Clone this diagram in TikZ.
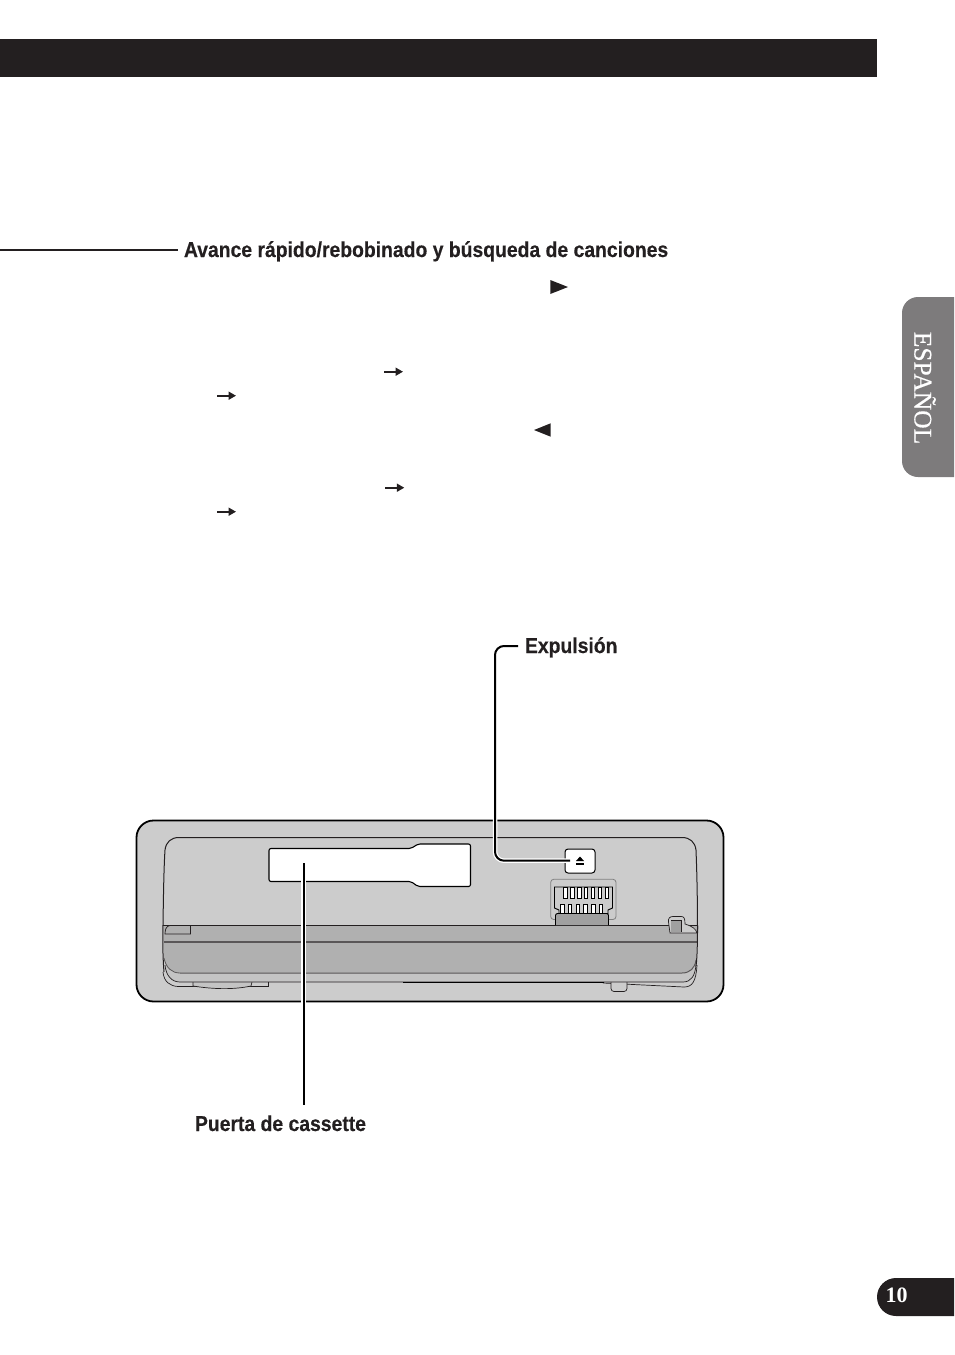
\documentclass[tikz,border=0pt]{standalone}
\usepackage{fontspec}
\setmainfont{Liberation Serif}
\newfontfamily\labelfont[FakeStretch=0.9,BoldFeatures={FakeBold=0.4}]{Liberation Sans}
\newfontfamily\tabfont[FakeBold=0.5]{Liberation Serif}
\usetikzlibrary{arrows.meta}
\definecolor{pageBlack}{HTML}{231F20}
\definecolor{tabGrey}{HTML}{7D7B7C}
\definecolor{faceGrey}{HTML}{CCCCCC}
\definecolor{bandGrey}{HTML}{B0B0B0}
\definecolor{lipGrey}{HTML}{C4C4C4}
\definecolor{tabDark}{HTML}{A0A0A0}

\begin{document}
\begin{tikzpicture}[x=1pt,y=-1pt]
\tikzset{LabelText/.style={
  anchor=base west,
  inner xsep=0pt,
  outer sep=0pt,
  text=pageBlack,
  font=\labelfont\bfseries\fontsize{21.5}{25}\selectfont
}}
\tikzset{Leader/.style={
  draw=black,
  line width=2pt,
  preaction={draw=white,line width=4.5pt}
}}
\tikzset{FaceLine/.style={draw=pageBlack,line width=1pt}}
\tikzset{ThinLine/.style={draw=pageBlack,line width=0.7pt}}
\tikzset{PinBox/.style={draw=black,line width=0.8pt,fill=white}}
\tikzset{FlowArrow/.style={
  draw=pageBlack,
  line width=1.8pt,
  -{Triangle[length=7.5pt,width=8pt]}
}}

\useasboundingbox (0,0) rectangle (954,1355);

% page furniture
\fill[pageBlack] (0,39) rectangle (877,77);
\fill[tabGrey] (954,297) [rounded corners=16pt] -- (902,297) -- (902,477) [sharp corners] -- (954,477) -- cycle;
\node[rotate=-90,text=white,font=\tabfont\fontsize{25.5}{27}\selectfont,inner sep=0pt] (tabLanguage) at (925,388) {ESPAÑOL};
\fill[pageBlack] (954,1278) [rounded corners=19pt] -- (877,1278) -- (877,1316) [sharp corners] -- (954,1316) -- cycle;
\node[anchor=base west,text=white,inner sep=0pt,font=\bfseries\fontsize{22}{24}\selectfont] (pageNumber) at (885.5,1302) {10};

% text glyphs
\fill[pageBlack] (550.3,280) -- (568,287) -- (550.3,294) -- cycle;
\fill[pageBlack] (550.7,423.3) -- (534,430) -- (550.7,436.7) -- cycle;
\foreach \x/\y in {384/371.7, 217/395.7, 385.3/487.7, 217/511.7}
  \draw[FlowArrow] (\x,\y) -- ++(19,0);

% labels
\node[LabelText] (lblAvance) at (184,257) {Avance rápido/rebobinado y búsqueda de canciones};
\node[LabelText] (lblExpulsion) at (525,653) {Expulsión};
\node[LabelText] (lblPuerta) at (195,1131) {Puerta de cassette};
\coordinate (pageEdge) at (0,250);
\coordinate (lineEndAvance) at ([xshift=-6pt]lblAvance.base west |- pageEdge);
\draw[pageBlack,line width=1.5pt] (pageEdge) -- (lineEndAvance);

% unit body
\draw[draw=black,line width=1.8pt,fill=faceGrey,rounded corners=17pt] (136.5,820.5) rectangle (723.5,1001.5);
\draw[FaceLine] (163,925) .. controls (163.5,890) and (164,865) .. (165,850)
  .. controls (166,842) and (171,837.5) .. (179,837.5) -- (682,837.5)
  .. controls (690,837.5) and (695,842) .. (696,850) .. controls (697,875) and (697.5,900) .. (697.5,933);

% lower lip and bottom parts
\draw[ThinLine] (268,986.5) -- (178,986.5) .. controls (170,986) and (164,982) .. (163,972);
\draw[ThinLine,fill=lipGrey] (193,982) -- (193,986) .. controls (215,989.5) and (235,989.5) .. (251,986) -- (252,982);
\draw[ThinLine] (603,983) -- (684,987) .. controls (692,987) and (696,982) .. (697,965);
\draw[ThinLine,fill=faceGrey,rounded corners=3pt] (611,982) -- (611,991.5) -- (627,991.5) -- (627,982);
\fill[lipGrey] (165,965) .. controls (166,976) and (172,982) .. (180,982) -- (683,982)
  .. controls (691,982) and (695,976) .. (696,965) -- cycle;
\draw[ThinLine] (165,965) .. controls (166,976) and (172,982) .. (180,982) -- (683,982)
  .. controls (691,982) and (695,976) .. (696,965);
\draw[ThinLine] (268,982) -- (268,986.5);
\draw[draw=black,line width=1pt] (403,982) -- (604,982);

% front band
\fill[bandGrey] (163,925) -- (697.5,925) -- (696,960)
  .. controls (695,968) and (690,973) .. (682,973) -- (180,973)
  .. controls (172,973) and (166,968) .. (164,958) -- cycle;
\draw[FaceLine] (163,925) -- (697.5,925);
\draw[draw=pageBlack!75,line width=1.2pt] (164,942) -- (697,942);
\draw[draw=pageBlack!75,line width=1pt] (180,973) -- (682,973)
  .. controls (690,973) and (695,968) .. (696,960);
\draw[draw=pageBlack!75,line width=0.8pt] (180,973) .. controls (172,973) and (166,968) .. (164,958);
\draw[FaceLine] (163,925) .. controls (162.5,945) and (163,960) .. (164,972);
\draw[FaceLine] (697.5,925) .. controls (697.5,945) and (697,960) .. (696,966);

% small window at the left, latch at the right
\draw[ThinLine,fill=bandGrey] (165,934) -- (190.5,934) -- (190.5,925.5) -- (170,925.5)
  .. controls (166,926) and (165,930) .. (165,934) -- cycle;
\draw[ThinLine,fill=faceGrey] (670,933) -- (668.5,922) .. controls (668,918) and (670,916.5) .. (673,916.5)
  -- (681,916.5) .. controls (684,916.5) and (685,918) .. (685,924)
  .. controls (692,926) and (696,929) .. (697,933) -- cycle;
\fill[tabDark] (671,920.5) rectangle (681.5,931.5);
\draw[ThinLine] (671,920.5) -- (681.5,920.5) -- (681.5,931.5);

% display window
\draw[draw=black,line width=1.1pt,fill=white,rounded corners=2pt] (269,848.5) -- (411,848.5)
  -- (418,844) -- (470.5,844) -- (470.5,886.5) -- (418,886.5) -- (411,881.5) -- (269,881.5) -- cycle;

% eject key
\node[draw=black,line width=1pt,fill=white,rounded corners=3pt,minimum width=30pt,minimum height=24pt,inner sep=0pt] (btnEject) at (580,861) {};
\fill[black] (580,856.5) -- (584,861) -- (576,861) -- cycle;
\fill[black] (576,862.5) rectangle (584,864.5);
\coordinate (ejectEnd) at (570,860.7);

% contacts
\draw[draw=gray,line width=0.8pt,fill=faceGrey,rounded corners=3pt] (550.7,879.3) rectangle (616,919.5);
\draw[draw=black,line width=0.9pt,fill=faceGrey] (554.5,887) -- (612.5,887) -- (612.5,908) -- (608,910) -- (608,913.5)
  -- (559,913.5) -- (559,910) -- (554.5,908) -- cycle;
\foreach \i in {0,...,6}
  \draw[PinBox] (563.5+\i*6.9,887.5) rectangle ++(3.6,11);
\foreach \i in {0,...,5}
  \draw[PinBox] (560.5+\i*7.7,904.5) rectangle ++(3.6,9);
\draw[draw=black,line width=0.9pt,fill=tabDark,rounded corners=2pt] (555.5,925) -- (555.5,913.5) -- (608.5,913.5) -- (608.5,925);

% leaders
\coordinate (doorEnd) at (303.5,863);
\coordinate (doorFoot) at (303.5,1105);
\draw[Leader] (doorEnd) -- (doorFoot);
\coordinate (lineStartExpulsion) at ([xshift=-7pt]lblExpulsion.base west |- 0,646);
\draw[Leader,rounded corners=9pt] (lineStartExpulsion) -- (495,646) -- (495,860.7) -- (ejectEnd);
\end{tikzpicture}
\end{document}
